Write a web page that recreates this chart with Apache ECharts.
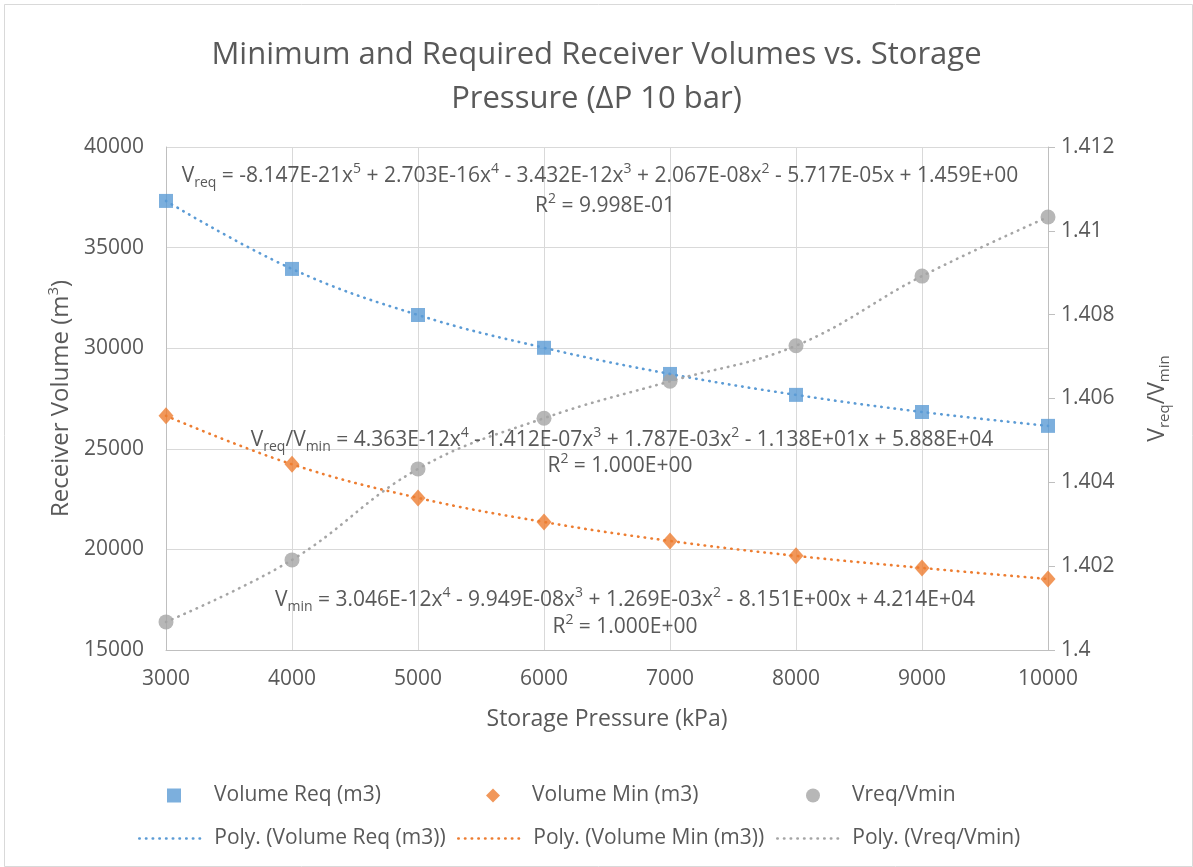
<!DOCTYPE html>
<html>
<head>
<meta charset="utf-8">
<script src="https://cdn.jsdelivr.net/npm/echarts@6/dist/echarts.min.js"></script>
<style>
html,body{margin:0;padding:0;background:#fff;}
#chart{width:1193px;height:867px;}
</style>
</head>
<body>
<div id="chart"></div>
<script>
const pressures = [3000, 4000, 5000, 6000, 7000, 8000, 9000, 10000];
const volumeReq = [37320, 33940, 31650, 30020, 28720, 27680, 26830, 26140];
const volumeMin = [26640, 24230, 22560, 21360, 20420, 19680, 19080, 18530];
const ratio = [1.40067, 1.40215, 1.40432, 1.40553, 1.40641, 1.40726, 1.40892, 1.41033];
const leftTicks = [15000, 40000, 5000];
const rightTicks = [1.4, 1.412, 0.002];

const seriesNames = ['Volume Req (m3)', 'Volume Min (m3)', 'Vreq/Vmin'];
const polyNames = ['Poly. (Volume Req (m3))', 'Poly. (Volume Min (m3))', 'Poly. (Vreq/Vmin)'];

const BLUE = '#5B9BD5', ORANGE = '#ED7D31', GRAY = '#A5A5A5', TXT = '#595959';
const FONT = '"Open Sans", "Liberation Sans", sans-serif';
const DOT = [0.5, 6.2];

const pairs = arr => pressures.map((p, i) => [p, arr[i]]);

const chart = echarts.init(document.getElementById('chart'), null, {renderer: 'canvas'});

const baseRich = {
  n: {fontSize: 21, color: TXT, fontFamily: FONT, lineHeight: 28, verticalAlign: 'middle'},
  sub: {fontSize: 14, color: TXT, fontFamily: FONT, lineHeight: 28, verticalAlign: 'bottom'},
  sup: {fontSize: 14, color: TXT, fontFamily: FONT, lineHeight: 28, verticalAlign: 'top'}
};

function eqText(str, x, y) {
  return {
    type: 'text', x: x, y: y, z: 100,
    style: {text: str, rich: baseRich, align: 'center', verticalAlign: 'middle', fill: TXT, font: '21px ' + FONT}
  };
}

const legendText = {color: TXT, fontSize: 21, fontFamily: FONT};
const rowLegend = (name, left, pad) => ({
  data: [name], left: left, top: 780, itemWidth: 14, itemHeight: 14,
  textStyle: Object.assign({padding: [0, 0, 0, pad]}, legendText)
});
const polyLegend = (name, left) => ({
  data: [name], left: left, top: 823, itemWidth: 65, itemHeight: 14,
  itemStyle: {opacity: 0},
  lineStyle: {width: 2.5, type: DOT, cap: 'round'},
  textStyle: Object.assign({padding: [0, 0, 0, 5]}, legendText)
});

const option = {
  backgroundColor: '#fff',
  animation: false,
  title: {
    text: 'Minimum and Required Receiver Volumes vs. Storage\nPressure (\u2206P 10 bar)',
    left: 'center', top: 28,
    textStyle: {color: TXT, fontSize: 31, fontWeight: 'normal', fontFamily: FONT, lineHeight: 44}
  },
  grid: {left: 166, right: 145, top: 147, bottom: 217, containLabel: false},
  legend: [
    rowLegend(seriesNames[0], 162, 28),
    rowLegend(seriesNames[1], 481, 27),
    rowLegend(seriesNames[2], 801, 27),
    polyLegend(polyNames[0], 133),
    polyLegend(polyNames[1], 452),
    polyLegend(polyNames[2], 771)
  ],
  xAxis: {
    type: 'value', min: 3000, max: 10000, interval: 1000,
    name: 'Storage Pressure (kPa)', nameLocation: 'middle', nameGap: 58,
    nameTextStyle: {color: TXT, fontSize: 23, fontFamily: FONT},
    axisLine: {show: true, lineStyle: {color: '#BFBFBF', width: 1}},
    axisTick: {show: false},
    axisLabel: {color: TXT, fontSize: 21, fontFamily: FONT, margin: 19, formatter: v => String(v)},
    splitLine: {show: true, lineStyle: {color: '#D9D9D9', width: 1}}
  },
  yAxis: [
    {
      type: 'value', min: leftTicks[0], max: leftTicks[1], interval: leftTicks[2], position: 'left',
      name: '{n|Receiver Volume (m}{sup|3}{n|)}', nameLocation: 'middle', nameGap: 90, nameRotate: 90,
      nameTextStyle: {rich: {
        n: {fontSize: 24, color: TXT, fontFamily: FONT, lineHeight: 30, verticalAlign: 'middle'},
        sup: {fontSize: 15, color: TXT, fontFamily: FONT, lineHeight: 30, verticalAlign: 'top'}
      }},
      axisLine: {show: true, lineStyle: {color: '#BFBFBF', width: 1}},
      axisTick: {show: false},
      axisLabel: {color: TXT, fontSize: 21, fontFamily: FONT, margin: 22, formatter: v => String(v)},
      splitLine: {show: true, lineStyle: {color: '#D9D9D9', width: 1}}
    },
    {
      type: 'value', min: rightTicks[0], max: rightTicks[1], interval: rightTicks[2], position: 'right',
      name: '{n|V}{sub|req}{n|/V}{sub|min}', nameLocation: 'middle', nameGap: 94, nameRotate: 90,
      nameTextStyle: {rich: {
        n: {fontSize: 23, color: TXT, fontFamily: FONT, lineHeight: 30, verticalAlign: 'middle'},
        sub: {fontSize: 15, color: TXT, fontFamily: FONT, lineHeight: 30, verticalAlign: 'bottom'}
      }},
      axisLine: {show: true, lineStyle: {color: '#BFBFBF', width: 1}},
      axisTick: {show: true, length: 7, lineStyle: {color: '#BFBFBF'}},
      axisLabel: {color: TXT, fontSize: 21, fontFamily: FONT, margin: 13},
      splitLine: {show: false}
    }
  ],
  series: [
    {name: seriesNames[0], type: 'scatter', yAxisIndex: 0, data: pairs(volumeReq), symbol: 'rect', symbolSize: 14, itemStyle: {color: BLUE}, z: 3},
    {name: seriesNames[1], type: 'scatter', yAxisIndex: 0, data: pairs(volumeMin), symbol: 'diamond', symbolSize: [15, 17], itemStyle: {color: ORANGE}, z: 3},
    {name: seriesNames[2], type: 'scatter', yAxisIndex: 1, data: pairs(ratio), symbol: 'circle', symbolSize: 15, itemStyle: {color: GRAY}, z: 3},
    {name: polyNames[0], type: 'line', yAxisIndex: 0, data: pairs(volumeReq), smooth: 0.4, symbol: 'none', color: BLUE, lineStyle: {color: BLUE, width: 2.6, type: DOT, cap: 'round'}, z: 4},
    {name: polyNames[1], type: 'line', yAxisIndex: 0, data: pairs(volumeMin), smooth: 0.4, symbol: 'none', color: ORANGE, lineStyle: {color: ORANGE, width: 2.6, type: DOT, cap: 'round'}, z: 4},
    {name: polyNames[2], type: 'line', yAxisIndex: 1, data: pairs(ratio), smooth: 0.4, symbol: 'none', color: GRAY, lineStyle: {color: GRAY, width: 2.6, type: DOT, cap: 'round'}, z: 4}
  ],
  graphic: [
    {type: 'rect', left: 2, top: 2, z: -10, shape: {width: 1188, height: 862}, style: {fill: 'none', stroke: '#D9D9D9', lineWidth: 1}},
    eqText('{n|V}{sub|req}{n| = -8.147E-21x}{sup|5}{n| + 2.703E-16x}{sup|4}{n| - 3.432E-12x}{sup|3}{n| + 2.067E-08x}{sup|2}{n| - 5.717E-05x + 1.459E+00}', 600, 176),
    eqText('{n|R}{sup|2}{n| = 9.998E-01}', 605, 206),
    eqText('{n|V}{sub|req}{n|/V}{sub|min}{n| = 4.363E-12x}{sup|4}{n| - 1.412E-07x}{sup|3}{n| + 1.787E-03x}{sup|2}{n| - 1.138E+01x + 5.888E+04}', 622, 440),
    eqText('{n|R}{sup|2}{n| = 1.000E+00}', 620, 466),
    eqText('{n|V}{sub|min}{n| = 3.046E-12x}{sup|4}{n| - 9.949E-08x}{sup|3}{n| + 1.269E-03x}{sup|2}{n| - 8.151E+00x + 4.214E+04}', 625, 600),
    eqText('{n|R}{sup|2}{n| = 1.000E+00}', 625, 627)
  ]
};
chart.setOption(option);
</script>
</body>
</html>
